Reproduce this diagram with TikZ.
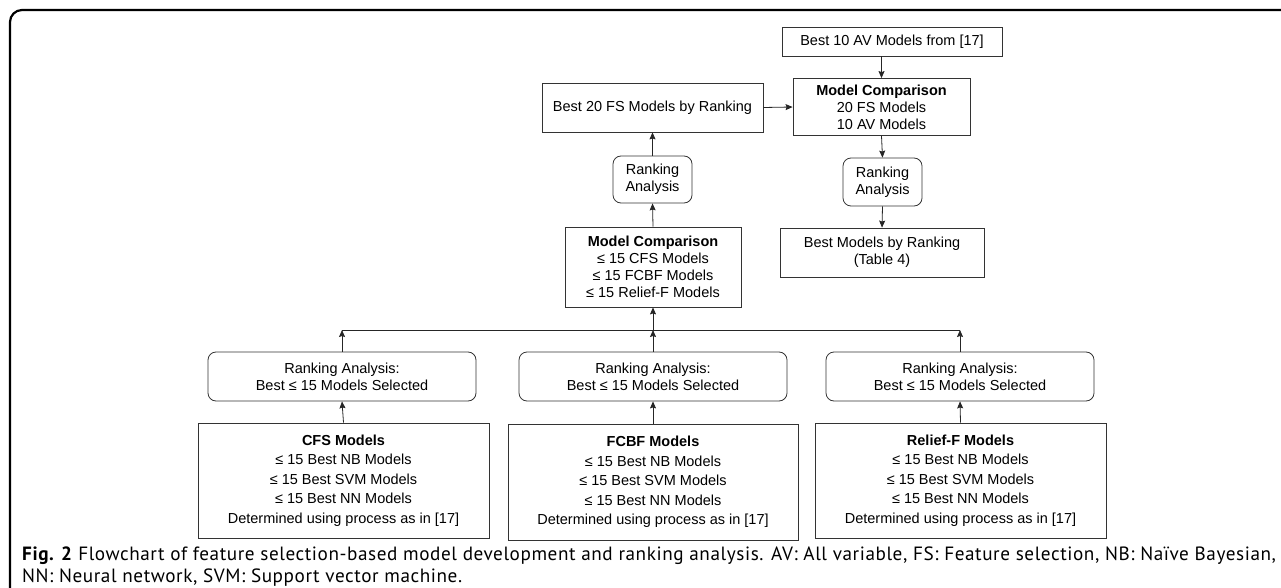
\documentclass[tikz,border=0pt]{standalone}
\usepackage{fontspec}
\setmainfont{Liberation Sans}
\newfontfamily\capfont[LetterSpace=3]{PT Sans}
\usetikzlibrary{arrows.meta}
\tikzset{
	box/.style={draw=black!80, line width=0.8pt, align=center, inner sep=0pt, font=\fontsize{14.5}{17}\selectfont},
	rbox/.style={box, rounded corners=8pt},
	tallbox/.style={box, minimum width=291pt, minimum height=115pt, font=\fontsize{14.5}{19.5}\selectfont},
	link/.style={line width=0.8pt, draw=black!85, -{Stealth[length=7pt,width=6pt,inset=1pt]}},
}
\begin{document}
\begin{tikzpicture}[x=1pt,y=-1pt]
		\useasboundingbox (0,0) rectangle (1281,588);
		\draw[line width=2.2pt, rounded corners=12pt](1281,10)--(10,10)--(10,588);
		% top right part
		\node[box, minimum width=220pt, minimum height=29pt] (best10) at (892,41.5) {Best 10 AV Models from [17]};
		\node[box, minimum width=177pt, minimum height=57pt] (mctop) at (881.5,107) {\textbf{Model Comparison}\\20 FS Models\\10 AV Models};
		\node[box, minimum width=221pt, minimum height=49pt] (best20) at (652.5,107.5) {Best 20 FS Models by Ranking};
		\node[rbox, minimum width=79pt, minimum height=48pt] (rankR) at (882.5,182) {Ranking\\Analysis};
		\node[box, minimum width=204pt, minimum height=49pt] (bestmod) at (882,252.5) {Best Models by Ranking\\(Table 4)};
		\node[rbox, minimum width=79pt, minimum height=47pt] (rankL) at (652.5,179.5) {Ranking\\Analysis};
		\node[box, minimum width=176pt, minimum height=80pt] (mcmid) at (653,267) {\textbf{Model Comparison}\\≤ 15 CFS Models\\≤ 15 FCBF Models\\≤ 15 Relief-F Models};
		% bottom row
		\node[rbox, minimum width=268pt, minimum height=49pt] (rank1) at (342,376.5) {Ranking Analysis:\\Best ≤ 15 Models Selected};
		\node[rbox, minimum width=268pt, minimum height=49pt] (rank2) at (653,376.5) {Ranking Analysis:\\Best ≤ 15 Models Selected};
		\node[rbox, minimum width=268pt, minimum height=49pt] (rank3) at (960,376.5) {Ranking Analysis:\\Best ≤ 15 Models Selected};
		\node[tallbox] (cfs) at (343.5,480.5) {\textbf{CFS Models}\\≤ 15 Best NB Models\\≤ 15 Best SVM Models\\≤ 15 Best NN Models\\Determined using process as in [17]};
		\node[tallbox, minimum width=290pt, minimum height=116pt] (fcbf) at (653,482) {\textbf{FCBF Models}\\≤ 15 Best NB Models\\≤ 15 Best SVM Models\\≤ 15 Best NN Models\\Determined using process as in [17]};
		\node[tallbox] (relief) at (960.5,480.5) {\textbf{Relief-F Models}\\≤ 15 Best NB Models\\≤ 15 Best SVM Models\\≤ 15 Best NN Models\\Determined using process as in [17]};
		\coordinate (join) at (653,330);
		% connectors
		\draw[link](best10.south -| mctop.north)--(mctop.north);
		\draw[link](best20.east)--(mctop.west);
		\draw[link](mctop.south)--(rankR.north);
		\draw[link](rankR.south)--(bestmod.north);
		\draw[link](rankL.north)--(best20.south);
		\draw[link](mcmid.north)--(rankL.south);
		\draw[line width=0.8pt, draw=black!85](rank1.north |- join)--(rank3.north |- join);
		\draw[link](join)--(mcmid.south);
		\draw[link](rank1.north)--(rank1.north |- join);
		\draw[link](rank2.north)--(join);
		\draw[link](rank3.north)--(rank3.north |- join);
		\draw[link](cfs.north)--(rank1.south);
		\draw[link](fcbf.north)--(rank2.south);
		\draw[link](relief.north)--(rank3.south);
		% caption
		\node[anchor=north west, inner sep=0pt, align=left, font=\capfont\fontsize{19.2}{22}\selectfont] (caption) at (22,547) {\textbf{Fig. 2} Flowchart of feature selection-based model development and ranking analysis. AV: All variable, FS: Feature selection, NB: Naïve Bayesian,\\NN: Neural network, SVM: Support vector machine.};
	    \end{tikzpicture}
\end{document}
